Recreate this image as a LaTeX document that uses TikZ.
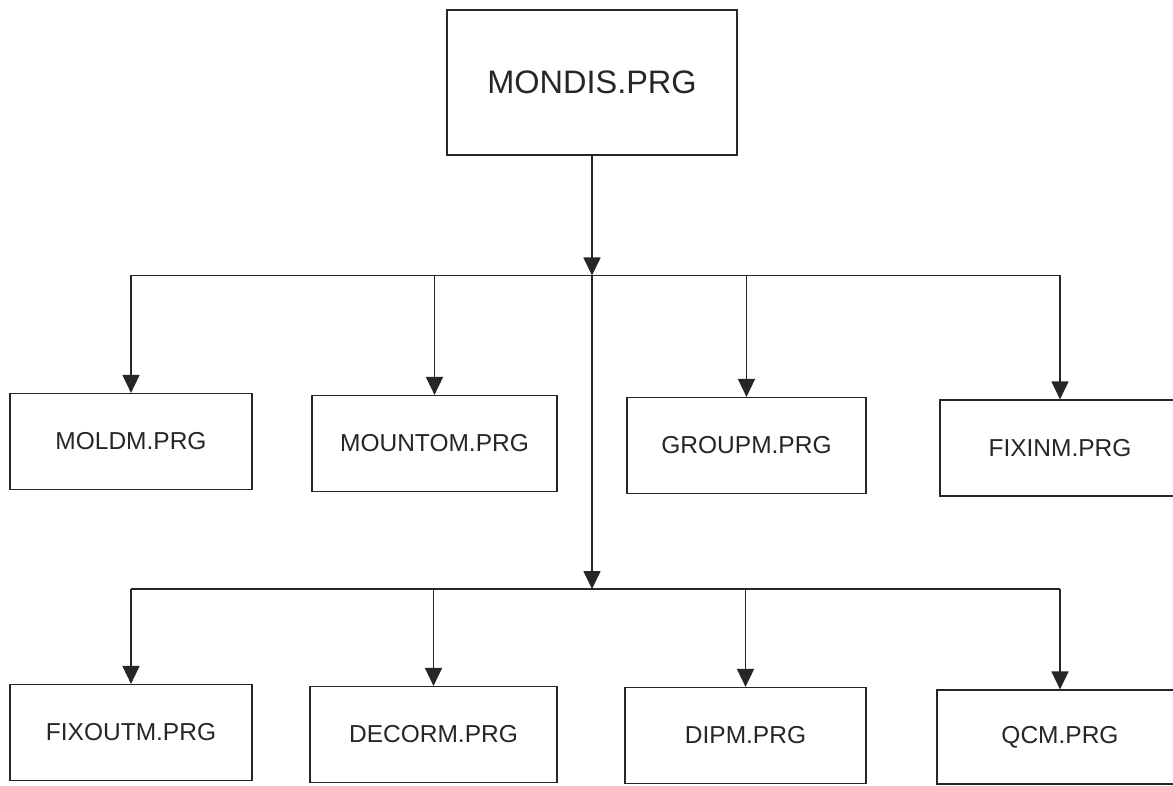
\documentclass[tikz,border=0pt]{standalone}
\usepackage{fontspec}
\setmainfont{Liberation Sans}
\usetikzlibrary{arrows.meta}
\begin{document}
\begin{tikzpicture}[x=1pt,y=-1pt,
  box/.style={draw=black!85, line width=1.2pt, inner sep=0pt, minimum width=242pt, minimum height=96pt, font=\fontsize{24.5}{28}\selectfont, text=black!85},
  topbox/.style={box, minimum width=290pt, minimum height=145pt, font=\fontsize{32.5}{36}\selectfont},
  conn/.style={draw=black!85, line width=1.7pt},
  arr/.style={conn, -{Triangle[length=18pt,width=17pt]}}
]
\clip (0,0) rectangle (1173,786);
\fill[white] (0,0) rectangle (1173,786);
\node[topbox] (top) at (592,82.5) {MONDIS.PRG};
% row 1
\node[box] (moldm) at (131,441.5) {MOLDM.PRG};
\node[box, minimum width=245pt] (mountom) at (434.5,443.5) {MOUNTOM.PRG};
\node[box, minimum width=239pt] (groupm) at (746.5,445.5) {GROUPM.PRG};
\node[box, minimum width=240pt] (fixinm) at (1060,448) {FIXINM.PRG};
% row 2
\node[box] (fixoutm) at (131,732.5) {FIXOUTM.PRG};
\node[box, minimum width=247pt] (decorm) at (433.5,734.5) {DECORM.PRG};
\node[box, minimum width=241pt] (dipm) at (745.5,735.5) {DIPM.PRG};
\node[box, minimum width=246pt, minimum height=94pt] (qcm) at (1060,737) {QCM.PRG};
% buses
\coordinate (b1) at (592,275.5);
\coordinate (b2) at (592,589);
\draw[conn] (moldm.north |- b1) -- (fixinm.north |- b1);
\draw[conn] (fixoutm.north |- b2) -- (qcm.north |- b2);
\draw[arr] (top.south) -- (b1);
\draw[arr] (b1) -- (b2);
\foreach \n in {moldm,mountom,groupm,fixinm}
  \draw[arr] (\n.north |- b1) -- (\n.north);
\foreach \n in {fixoutm,decorm,dipm,qcm}
  \draw[arr] (\n.north |- b2) -- (\n.north);
\end{tikzpicture}
\end{document}
